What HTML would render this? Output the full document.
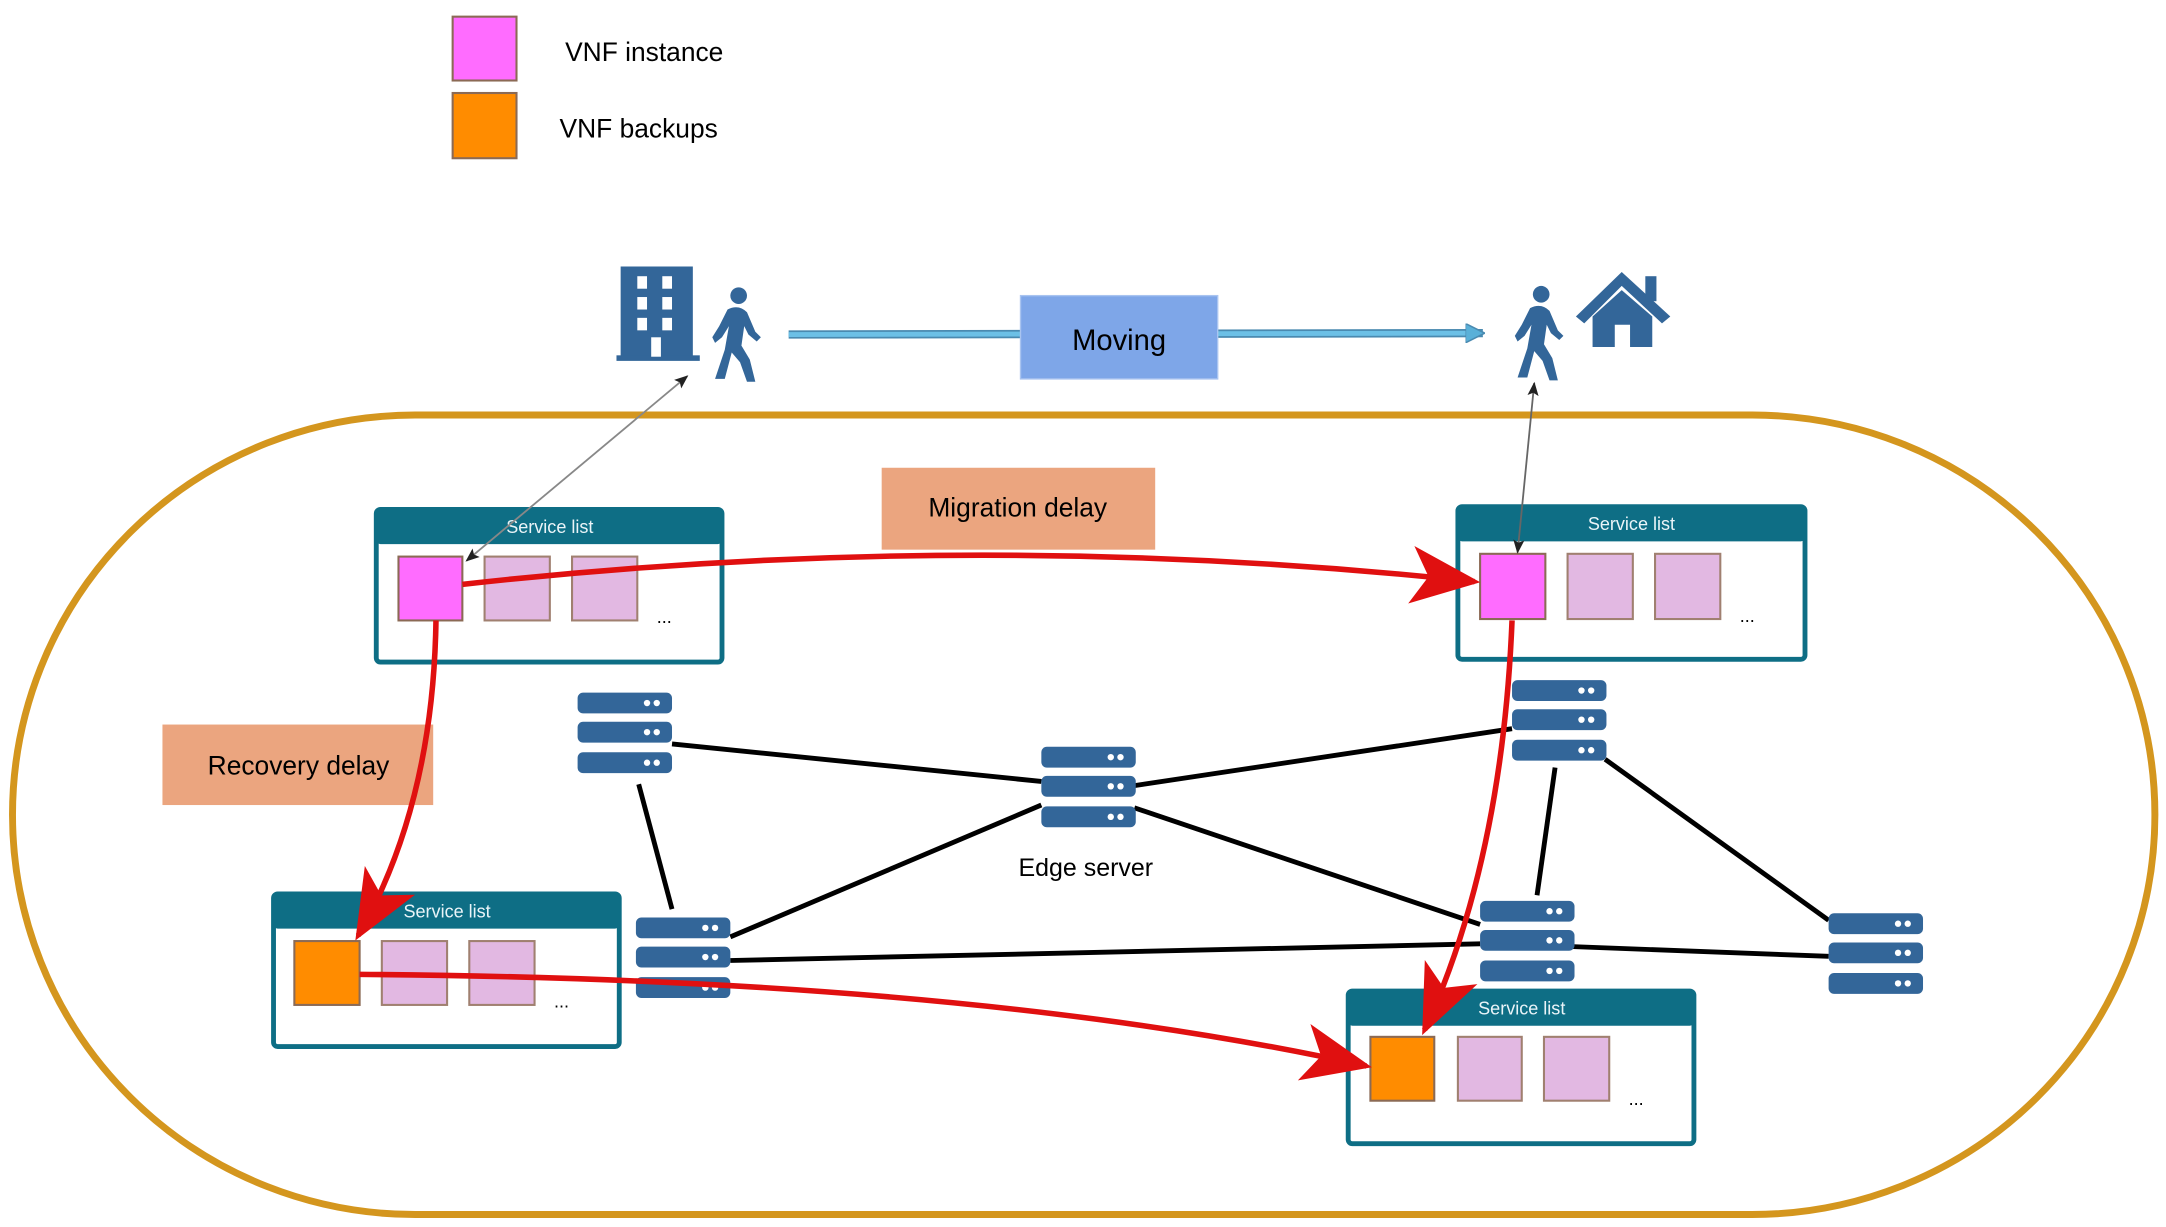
<!DOCTYPE html>
<html><head><meta charset="utf-8"><style>
html,body{margin:0;padding:0;background:#fff;}
svg{display:block;}
text{font-family:"Liberation Sans",Arial,sans-serif;}
</style></head><body>
<svg width="2166" height="1227" viewBox="0 0 1560 884" preserveAspectRatio="none" xmlns="http://www.w3.org/2000/svg">
<defs>
<marker id="red" viewBox="0 0 12 10" refX="11" refY="5" markerWidth="50" markerHeight="42" markerUnits="userSpaceOnUse" orient="auto">
<path d="M0,0 L12,5 L0,10 L3,5 Z" fill="#e01010"/></marker>
<marker id="gk" viewBox="0 0 10 10" refX="9" refY="5" markerWidth="10" markerHeight="10" markerUnits="userSpaceOnUse" orient="auto-start-reverse">
<path d="M0,1 L10,5 L0,9 L2,5 Z" fill="#222"/></marker>
<marker id="bl" viewBox="0 0 10 10" refX="9" refY="5" markerWidth="14" markerHeight="14" markerUnits="userSpaceOnUse" orient="auto">
<path d="M0,0 L10,5 L0,10 Z" fill="#5ab0d8" stroke="#4a8ab0" stroke-width="0.8"/></marker>
<g id="srv">
<rect x="0" y="0" width="68" height="15" rx="4" fill="#336699"/>
<rect x="0" y="21" width="68" height="15" rx="4" fill="#336699"/>
<rect x="0" y="43" width="68" height="15" rx="4" fill="#336699"/>
<circle cx="50" cy="7.5" r="2.3" fill="#fff"/><circle cx="57" cy="7.5" r="2.3" fill="#fff"/>
<circle cx="50" cy="28.5" r="2.3" fill="#fff"/><circle cx="57" cy="28.5" r="2.3" fill="#fff"/>
<circle cx="50" cy="50.5" r="2.3" fill="#fff"/><circle cx="57" cy="50.5" r="2.3" fill="#fff"/>
</g>
<g id="walk" fill="#336699">
<circle cx="22" cy="6" r="6"/>
<path d="M14,16 Q22,12 28,18 L34,32 L38,36 L35,39 L29,34 L26,28 L24,42 L30,52 L34,68 L28,68 L23,54 L17,47 L12,66 L5,66 L12,45 L15,28 L10,36 L5,40 L3,36 L8,28 Z"/>
</g>
</defs>

<rect x="326" y="12" width="46" height="46" fill="#ff6cff" stroke="#8b6a55" stroke-width="1.5"/>
<rect x="326" y="67" width="46" height="47" fill="#ff8c00" stroke="#8b6a55" stroke-width="1.5"/>
<text x="407" y="44" font-size="19">VNF instance</text>
<text x="403" y="99" font-size="19">VNF backups</text>

<rect x="9" y="299" width="1543" height="576" rx="290" ry="288" fill="none" stroke="#d4961e" stroke-width="5"/>

<g fill="#336699">
<rect x="447" y="192" width="52" height="66"/>
<rect x="444" y="256" width="60" height="4"/>
</g>
<g fill="#fff">
<rect x="459" y="199" width="7" height="9"/><rect x="477" y="199" width="7" height="9"/>
<rect x="459" y="214" width="7" height="9"/><rect x="477" y="214" width="7" height="9"/>
<rect x="459" y="229" width="7" height="9"/><rect x="477" y="229" width="7" height="9"/>
<rect x="469" y="243" width="7" height="14"/>
</g>
<use href="#walk" x="510" y="207"/>
<use href="#walk" x="1088" y="206"/>
<g fill="#336699">
<path d="M1135,228 L1168,196 L1203,228 L1197,233 L1168,206 L1141,233 Z"/>
<rect x="1185" y="199" width="8" height="18"/>
<path d="M1147,228 L1168,209 L1190,228 L1190,250 L1174,250 L1174,234 L1163,234 L1163,250 L1147,250 Z"/>
</g>

<line x1="568" y1="241" x2="1068" y2="240" stroke="#4a8ab0" stroke-width="6"/>
<line x1="568" y1="241" x2="1068" y2="240" stroke="#6cc0e6" stroke-width="3.5" marker-end="url(#bl)"/>
<rect x="735" y="213" width="142" height="60" fill="#7ea6e8" stroke="#a9c4f0" stroke-width="1"/>
<text x="806" y="252" font-size="21" text-anchor="middle">Moving</text>

<g stroke="#000" stroke-width="3.5">
<line x1="484" y1="536" x2="750" y2="563"/>
<line x1="817" y1="566" x2="1089" y2="525"/>
<line x1="460" y1="565" x2="484" y2="655"/>
<line x1="750" y1="580" x2="526" y2="675"/>
<line x1="817" y1="582" x2="1066" y2="666"/>
<line x1="526" y1="692" x2="1066" y2="680"/>
<line x1="1133" y1="682" x2="1317" y2="689"/>
<line x1="1120" y1="553" x2="1107" y2="645"/>
<line x1="1156" y1="547" x2="1317" y2="663"/>
</g>

<use href="#srv" x="416" y="499"/>
<use href="#srv" x="750" y="538"/>
<use href="#srv" x="1089" y="490"/>
<use href="#srv" x="458" y="661"/>
<use href="#srv" x="1066" y="649"/>
<use href="#srv" x="1317" y="658"/>
<text x="782" y="631" font-size="18" text-anchor="middle">Edge server</text>

<rect x="271" y="367" width="249" height="110" rx="3" fill="#fff" stroke="#0e6e85" stroke-width="3.5"/>
<rect x="271" y="367" width="249" height="25" rx="3" fill="#0e6e85"/>
<text x="396" y="384" font-size="13" fill="#eaf4f8" text-anchor="middle">Service list</text>
<rect x="287" y="401" width="46" height="46" fill="#ff6cff" stroke="#8b6a55" stroke-width="1.5"/>
<rect x="349" y="401" width="47" height="46" fill="#e2b8e2" stroke="#a08070" stroke-width="1.5"/>
<rect x="412" y="401" width="47" height="46" fill="#e2b8e2" stroke="#a08070" stroke-width="1.5"/>
<text x="473" y="449" font-size="13">...</text>

<rect x="1050" y="365" width="250" height="110" rx="3" fill="#fff" stroke="#0e6e85" stroke-width="3.5"/>
<rect x="1050" y="365" width="250" height="25" rx="3" fill="#0e6e85"/>
<text x="1175" y="382" font-size="13" fill="#eaf4f8" text-anchor="middle">Service list</text>
<rect x="1066" y="399" width="47" height="47" fill="#ff6cff" stroke="#8b6a55" stroke-width="1.5"/>
<rect x="1129" y="399" width="47" height="47" fill="#e2b8e2" stroke="#a08070" stroke-width="1.5"/>
<rect x="1192" y="399" width="47" height="47" fill="#e2b8e2" stroke="#a08070" stroke-width="1.5"/>
<text x="1253" y="448" font-size="13">...</text>

<rect x="197" y="644" width="249" height="110" rx="3" fill="#fff" stroke="#0e6e85" stroke-width="3.5"/>
<rect x="197" y="644" width="249" height="25" rx="3" fill="#0e6e85"/>
<text x="322" y="661" font-size="13" fill="#eaf4f8" text-anchor="middle">Service list</text>
<rect x="212" y="678" width="47" height="46" fill="#ff8c00" stroke="#8b6a55" stroke-width="1.5"/>
<rect x="275" y="678" width="47" height="46" fill="#e2b8e2" stroke="#a08070" stroke-width="1.5"/>
<rect x="338" y="678" width="47" height="46" fill="#e2b8e2" stroke="#a08070" stroke-width="1.5"/>
<text x="399" y="726" font-size="13">...</text>

<rect x="971" y="714" width="249" height="110" rx="3" fill="#fff" stroke="#0e6e85" stroke-width="3.5"/>
<rect x="971" y="714" width="249" height="25" rx="3" fill="#0e6e85"/>
<text x="1096" y="731" font-size="13" fill="#eaf4f8" text-anchor="middle">Service list</text>
<rect x="987" y="747" width="46" height="46" fill="#ff8c00" stroke="#8b6a55" stroke-width="1.5"/>
<rect x="1050" y="747" width="46" height="46" fill="#e2b8e2" stroke="#a08070" stroke-width="1.5"/>
<rect x="1112" y="747" width="47" height="46" fill="#e2b8e2" stroke="#a08070" stroke-width="1.5"/>
<text x="1173" y="796" font-size="13">...</text>

<line x1="336" y1="404" x2="495" y2="271" stroke="#888" stroke-width="1.3" marker-start="url(#gk)" marker-end="url(#gk)"/>
<line x1="1093" y1="398" x2="1105" y2="276" stroke="#666" stroke-width="1.3" marker-start="url(#gk)" marker-end="url(#gk)"/>

<rect x="635" y="337" width="197" height="59" fill="#eba57f"/>
<text x="733" y="372" font-size="19" text-anchor="middle">Migration delay</text>
<rect x="117" y="522" width="195" height="58" fill="#eba57f"/>
<text x="215" y="558" font-size="19" text-anchor="middle">Recovery delay</text>

<g fill="none" stroke="#e01010" stroke-width="4">
<path d="M333,421 Q700,380 1062,419" marker-end="url(#red)"/>
<path d="M314,447 Q312,580 258,674" marker-end="url(#red)"/>
<path d="M1089,447 Q1082,620 1026,742" marker-end="url(#red)"/>
<path d="M259,702 Q700,705 984,768" marker-end="url(#red)"/>
</g>
</svg>
</body></html>
